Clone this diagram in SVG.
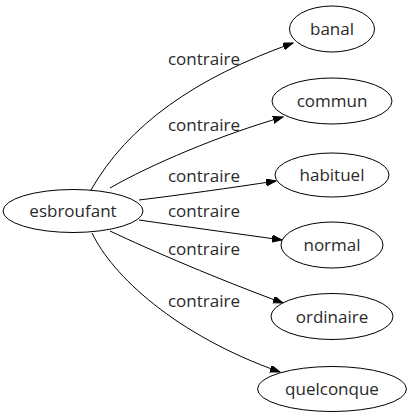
<svg xmlns="http://www.w3.org/2000/svg" width="411" height="419" viewBox="0 0 411 419">
<style>
.node ellipse{fill:#fff;stroke:#000;stroke-width:1}
text{font-family:"Open Sans","DejaVu Sans",sans-serif;font-size:17px;fill:#2a2a2a;text-anchor:middle}
.edges path{fill:none;stroke:#000;stroke-width:1}
</style>
<defs>
<marker id="ah" markerUnits="userSpaceOnUse" markerWidth="11" markerHeight="8" refX="10" refY="3.5" orient="auto">
<path d="M0,0 L10,3.5 L0,7 z" fill="#000" stroke="#000" stroke-width="1"/>
</marker>
</defs>
<rect width="411" height="419" fill="#fff"/>
<g class="edges">
<path d="M91,190 C128,125 195,78 293,43" marker-end="url(#ah)"/>
<path d="M110,188 C150,165 220,135 283,117" marker-end="url(#ah)"/>
<path d="M139,200 C180,195 230,188 276,181" marker-end="url(#ah)"/>
<path d="M139,220 C180,226 240,234 282,240" marker-end="url(#ah)"/>
<path d="M110,231 C150,250 220,280 283,303" marker-end="url(#ah)"/>
<path d="M92,233 C112,275 175,335 280,372" marker-end="url(#ah)"/>
<text x="204" y="65">contraire</text>
<text x="204" y="131">contraire</text>
<text x="204" y="182">contraire</text>
<text x="204" y="217">contraire</text>
<text x="204" y="255">contraire</text>
<text x="204" y="307">contraire</text>
</g>
<g id="esbroufant" class="node"><ellipse cx="73" cy="211" rx="70" ry="21.5"/><text x="73" y="217">esbroufant</text></g>
<g id="banal" class="node"><ellipse cx="332" cy="29" rx="42.5" ry="23"/><text x="332" y="35">banal</text></g>
<g id="commun" class="node"><ellipse cx="332" cy="101" rx="60" ry="23"/><text x="332" y="107">commun</text></g>
<g id="habituel" class="node"><ellipse cx="332" cy="175" rx="57" ry="22"/><text x="332" y="181">habituel</text></g>
<g id="normal" class="node"><ellipse cx="332" cy="245" rx="51" ry="23"/><text x="332" y="251">normal</text></g>
<g id="ordinaire" class="node"><ellipse cx="332" cy="316.5" rx="61" ry="23"/><text x="332" y="322.5">ordinaire</text></g>
<g id="quelconque" class="node"><ellipse cx="332" cy="389" rx="74.5" ry="22.5"/><text x="332" y="395">quelconque</text></g>
</svg>
